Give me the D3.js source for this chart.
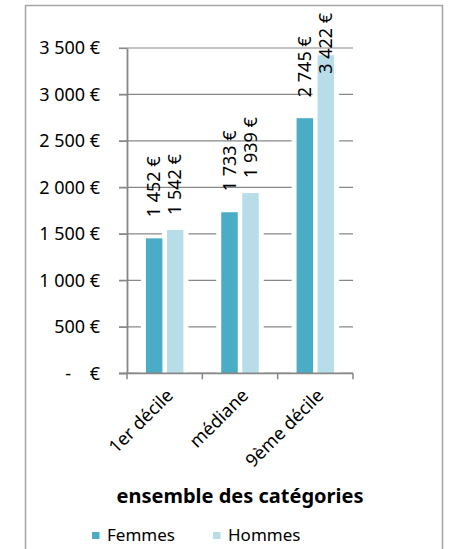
<!DOCTYPE html>
<html>
<head>
<meta charset="utf-8">
<script src="https://cdn.jsdelivr.net/npm/d3@7"></script>
<style>
  html, body { margin: 0; padding: 0; background: #fff; }
  svg { display: block; font-family: "Noto Sans", "Open Sans", sans-serif; }
  text { white-space: pre; }
</style>
</head>
<body>
<svg id="chart" width="454" height="549"></svg>
<script>
// Salaires mensuels nets par décile, femmes / hommes
const categories = ["1er décile", "médiane", "9ème décile"];
const femmes = [1452, 1733, 2745];
const hommes = [1542, 1939, 3422];
const seriesNames = ["Femmes", "Hommes"];
const yTicks = [0, 500, 1000, 1500, 2000, 2500, 3000, 3500];
const chartTitle = "ensemble des catégories";

const colors = ["#4BACC6", "#B7DEE8"];
const series = [femmes, hommes];

const svg = d3.select("#chart");

// plot area
const plot = { left: 127, right: 353, top: 48, bottom: 373.3 };

const x0 = d3.scaleBand().domain(categories).range([plot.left, plot.right]).padding(0);
const y = d3.scaleLinear().domain([0, 3500]).range([plot.bottom, plot.top]);

const barW = 16.5, innerGap = 4.5;
const barX = (i, s) => x0(categories[i]) + x0.bandwidth() / 2 + (s === 0 ? -innerGap / 2 - barW : innerGap / 2);

const nf = d3.formatLocale({ decimal: ",", thousands: "\u00a0", grouping: [3] }).format(",d");
const euro = v => v === 0 ? "-\u00a0\u00a0\u00a0\u00a0€" : nf(v) + "\u00a0€";

// chart frame
svg.append("rect")
  .attr("x", 25.5).attr("y", 5.5)
  .attr("width", 417).attr("height", 560)
  .attr("fill", "#fff").attr("stroke", "#a5a5a5").attr("stroke-width", 1.5);

// horizontal gridlines
svg.append("g").selectAll("line").data(yTicks).join("line")
  .attr("x1", plot.left - 8).attr("x2", plot.right)
  .attr("y1", d => y(d)).attr("y2", d => y(d))
  .attr("stroke", "#888").attr("stroke-width", 1.2);

// bars with a white backing that interrupts the gridlines beside them
const bars = [];
series.forEach((vals, s) => vals.forEach((v, i) => bars.push({ s, i, v })));

svg.append("g").selectAll("rect").data(bars).join("rect")
  .attr("x", d => barX(d.i, d.s) - 5)
  .attr("width", barW + 10)
  .attr("y", d => y(d.v))
  .attr("height", d => y(0) - y(d.v))
  .attr("fill", "#fff");

svg.append("g").selectAll("rect").data(bars).join("rect")
  .attr("x", d => barX(d.i, d.s))
  .attr("width", barW)
  .attr("y", d => y(d.v))
  .attr("height", d => y(0) - y(d.v))
  .attr("fill", d => colors[d.s]);

// y axis
const yAxis = svg.append("g")
  .attr("transform", `translate(${plot.left},0)`)
  .call(d3.axisLeft(y).tickValues(yTicks).tickSize(8).tickSizeOuter(0).tickPadding(19).tickFormat(euro));
yAxis.select(".domain").attr("stroke", "#868686").attr("stroke-width", 1.8);
yAxis.selectAll(".tick line").attr("stroke", "#888").attr("stroke-width", 1.2);
yAxis.selectAll(".tick text").attr("font-size", 18).attr("fill", "#000")
  .attr("font-family", "'Noto Sans', sans-serif");

// x axis line and tick marks at category boundaries
const xg = svg.append("g");
xg.append("line")
  .attr("x1", plot.left - 8).attr("x2", plot.right)
  .attr("y1", y(0)).attr("y2", y(0))
  .attr("stroke", "#868686").attr("stroke-width", 1.8);
const bounds = categories.map(c => x0(c)).concat([x0.range()[1]]);
xg.selectAll("line.tk").data(bounds).join("line").attr("class", "tk")
  .attr("x1", d => d).attr("x2", d => d)
  .attr("y1", y(0)).attr("y2", y(0) + 6)
  .attr("stroke", "#868686").attr("stroke-width", 1.5);

// category labels, slanted
xg.selectAll("text").data(categories).join("text")
  .attr("transform", d => `translate(${x0(d) + x0.bandwidth() / 2 + 5},392) rotate(-45)`)
  .attr("text-anchor", "end")
  .attr("dy", "0.35em")
  .attr("font-size", 18)
  .text(d => d);

// value labels, vertical, above each bar
const offsets = [21, 15];
const labelTopLimit = 13;
svg.append("g").selectAll("text").data(bars).join("text")
  .attr("font-size", 18)
  .attr("dy", "0.35em")
  .text(d => euro(d.v))
  .each(function (d) {
    const len = this.getComputedTextLength();
    const start = Math.max(y(d.v) - offsets[d.s], labelTopLimit + len);
    const cx = barX(d.i, d.s) + barW / 2;
    d3.select(this).attr("transform", `translate(${cx},${start}) rotate(-90)`);
  });

// axis title
svg.append("text")
  .attr("x", (plot.left + plot.right) / 2).attr("y", 503)
  .attr("text-anchor", "middle")
  .attr("font-size", 20).attr("font-weight", "bold")
  .text(chartTitle);

// legend
const legendX = [92, 213];
const lg = svg.append("g").selectAll("g").data(seriesNames).join("g")
  .attr("transform", (d, i) => `translate(${legendX[i]},532)`);
lg.append("rect").attr("width", 7.5).attr("height", 7).attr("fill", (d, i) => colors[i]);
lg.append("text").attr("x", 15).attr("y", 3.5).attr("dy", "0.35em")
  .attr("font-size", 17).text(d => d);
</script>
</body>
</html>
